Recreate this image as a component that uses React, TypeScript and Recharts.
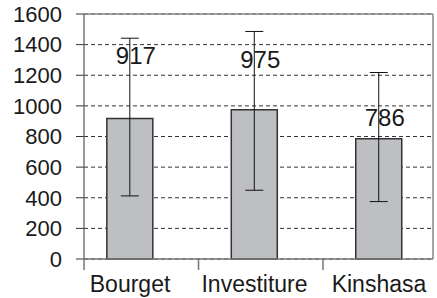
import type { JSX } from 'react';
import { Bar, BarChart, CartesianGrid, ErrorBar, LabelList, ReferenceLine, XAxis, YAxis } from 'recharts';

const categories = ['Bourget', 'Investiture', 'Kinshasa'];
const means = [917, 975, 786];
const errorLow = [505, 526, 411];
const errorHigh = [525, 511, 432];
const yTicks = [0, 200, 400, 600, 800, 1000, 1200, 1400, 1600];

const data = categories.map((name, i) => ({
  name,
  pos: i,
  mean: means[i],
  err: [errorLow[i], errorHigh[i]],
}));

// value labels sit at different heights above each bar in the original
const labelLift = [63, 50, 21];
const xDomain: [number, number] = [-0.37, 2.434];
const FONT = '"Liberation Sans", Arial, sans-serif';

const CategoryTick = (props: any): JSX.Element => {
  const { x, y, payload, index } = props;
  const boundary = index === 0 ? x - 46 : x - 56;
  return (
    <g>
      <line x1={boundary} x2={boundary} y1={y} y2={y + 11} stroke="#777" strokeWidth={1.5} />
      <text x={x} y={y + 33} textAnchor="middle" fontSize={23} fill="#1a1a1a" fontFamily={FONT}>
        {categories[payload.value]}
      </text>
    </g>
  );
};

const ValueLabel = (props: any): JSX.Element => {
  const { x, y, width, index, value } = props;
  return (
    <text
      x={x + width / 2 + 6}
      y={y - labelLift[index]}
      textAnchor="middle"
      dominantBaseline="central"
      fontSize={24}
      fill="#1a1a1a"
      fontFamily={FONT}
    >
      {value}
    </text>
  );
};

export default function App(): JSX.Element {
  return (
    <div style={{ position: 'absolute', left: 0, top: 0, background: '#fff' }}>
      <BarChart width={437} height={298} data={data} margin={{ top: 14, right: 4, bottom: 0, left: 0 }}>
        <CartesianGrid vertical={false} stroke="#333" strokeDasharray="4 3" />
        <XAxis
          dataKey="pos"
          type="number"
          domain={xDomain}
          ticks={[0, 1, 2]}
          allowDataOverflow
          tickLine={false}
          tickSize={0}
          tickMargin={0}
          axisLine={{ stroke: '#777', strokeWidth: 1.5 }}
          tick={<CategoryTick />}
          height={39}
        />
        <YAxis
          domain={[0, 1600]}
          ticks={yTicks}
          interval={0}
          width={84}
          tickSize={8}
          tickMargin={14}
          tickLine={{ stroke: '#333' }}
          axisLine={{ stroke: '#777', strokeWidth: 1.5 }}
          tick={{ fontSize: 22, fill: '#1a1a1a', fontFamily: FONT }}
        />
        <ReferenceLine y={1600} stroke="#888" strokeWidth={1.5} />
        <ReferenceLine x={xDomain[1]} stroke="#888" strokeWidth={1.5} />
        <Bar dataKey="mean" barSize={46} fill="#bebfc3" stroke="#333" strokeWidth={1.5} isAnimationActive={false}>
          <ErrorBar dataKey="err" width={9} stroke="#111" strokeWidth={1} />
          <LabelList dataKey="mean" content={<ValueLabel />} />
        </Bar>
      </BarChart>
    </div>
  );
}
